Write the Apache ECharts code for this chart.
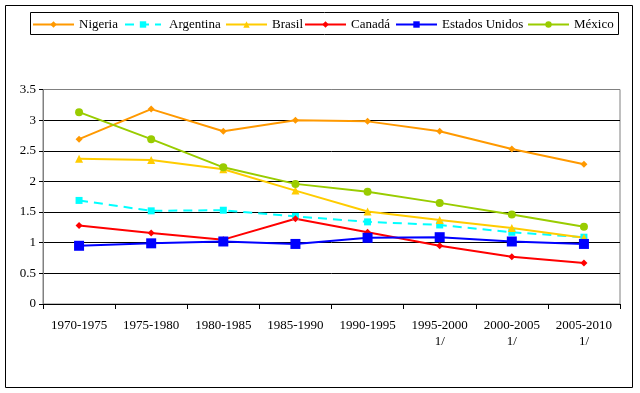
<!DOCTYPE html>
<html><head><meta charset="utf-8">
<script src="https://cdn.jsdelivr.net/npm/echarts@6/dist/echarts.min.js"></script>
<style>html,body{margin:0;padding:0;background:#fff}#c{width:640px;height:393px}</style>
</head><body><div id="c"></div>
<script>
const categories = ['1970-1975','1975-1980','1980-1985','1985-1990','1990-1995','1995-2000\n1/','2000-2005\n1/','2005-2010\n1/'];
const seriesNames = ['Nigeria', 'Argentina', 'Brasil', 'Canadá', 'Estados Unidos', 'México'];
const nigeria   = [2.69, 3.18, 2.82, 3.00, 2.98, 2.82, 2.53, 2.28];
const argentina = [1.69, 1.52, 1.53, 1.43, 1.34, 1.29, 1.17, 1.09];
const brasil    = [2.37, 2.35, 2.20, 1.85, 1.51, 1.37, 1.24, 1.08];
const canada    = [1.28, 1.16, 1.05, 1.39, 1.17, 0.95, 0.77, 0.67];
const eeuu      = [0.95, 0.99, 1.02, 0.98, 1.08, 1.09, 1.02, 0.98];
const mexico    = [3.13, 2.69, 2.23, 1.96, 1.83, 1.65, 1.46, 1.26];

const FONT = 'Liberation Serif';
function s(name, data, color, symbol, size, dashed) {
  return {
    name, type: 'line', data, symbol, symbolSize: size,
    lineStyle: {color, width: 2, type: dashed ? [9, 6] : 'solid'},
    itemStyle: {color},
    animation: false
  };
}
const legendLefts = [32, 124, 225, 304, 395, 527];
const legendWidths = [41, 36, 41, 41, 41, 41];
const legends = seriesNames.map((n, i) => ({
  top: 18, left: legendLefts[i], itemWidth: legendWidths[i], itemHeight: 8, itemGap: 0,
  textStyle: {fontFamily: FONT, fontSize: 13, color: '#000', padding: [0, 0, 0, i === 1 ? 3 : 0]},
  padding: 0,
  data: [n]
}));
const chart = echarts.init(document.getElementById('c'));
chart.setOption({
  animation: false,
  textStyle: {fontFamily: FONT},
  graphic: [
    {type: 'rect', shape: {x: 5.5, y: 5.5, width: 627, height: 382}, style: {fill: 'none', stroke: '#000', lineWidth: 1}, silent: true},
    {type: 'rect', shape: {x: 30.5, y: 12.5, width: 588, height: 22}, style: {fill: 'none', stroke: '#000', lineWidth: 1}, silent: true}
  ],
  legend: legends,
  grid: {left: 43, right: 20, top: 89.5, bottom: 89, show: true, borderColor: '#808080', borderWidth: 1},
  xAxis: {
    type: 'category', data: categories, boundaryGap: true,
    axisLine: {lineStyle: {color: '#000'}},
    axisTick: {show: true, alignWithLabel: false, length: 5, lineStyle: {color: '#000'}},
    axisLabel: {fontFamily: FONT, fontSize: 13, color: '#000', margin: 14, interval: 0, lineHeight: 16},
    splitLine: {show: false}
  },
  yAxis: {
    type: 'value', min: 0, max: 3.5, interval: 0.5,
    axisLine: {show: true, lineStyle: {color: '#808080'}},
    axisTick: {show: true, length: 4, lineStyle: {color: '#000'}},
    axisLabel: {fontFamily: FONT, fontSize: 13, color: '#000', margin: 7},
    splitLine: {show: true, lineStyle: {color: ['#000','#000','#000','#000','#000','#000','#000','#808080'], width: 1}}
  },
  series: [
    s('Nigeria', nigeria, '#FF9900', 'diamond', 7, false),
    s('Argentina', argentina, '#00FFFF', 'rect', 7, true),
    s('Brasil', brasil, '#FFCC00', 'triangle', 8, false),
    s('Canadá', canada, '#FF0000', 'diamond', 7, false),
    s('Estados Unidos', eeuu, '#0000FF', 'rect', 10, false),
    s('México', mexico, '#99CC00', 'circle', 8, false)
  ]
});
</script></body></html>
